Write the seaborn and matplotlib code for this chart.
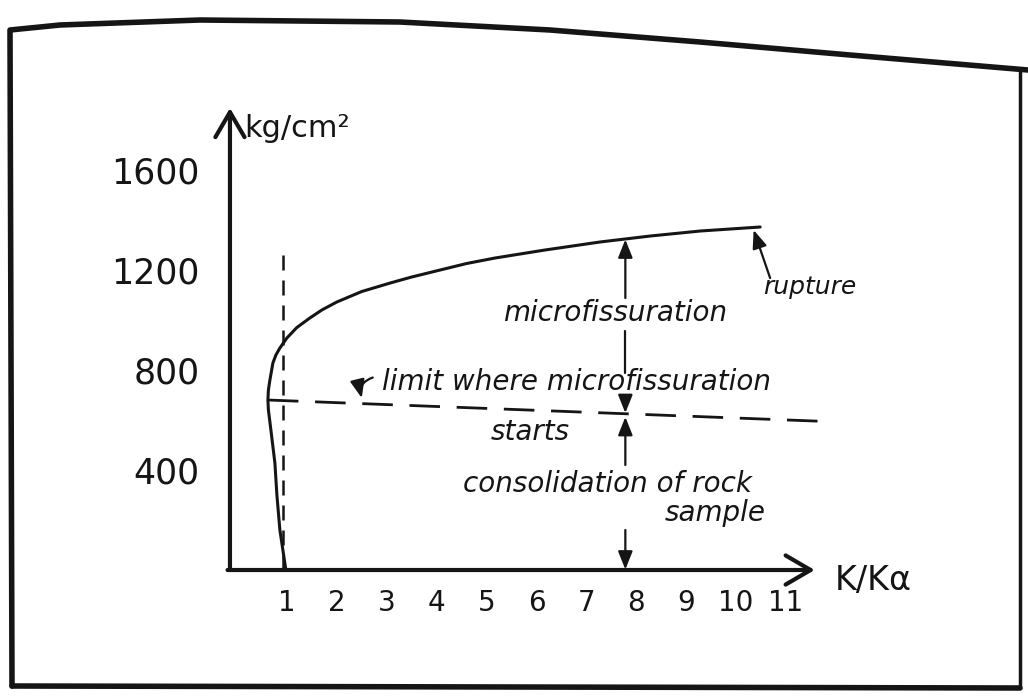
import numpy as np
import pandas as pd
import matplotlib
matplotlib.use("Agg")
import matplotlib.pyplot as plt
from matplotlib.lines import Line2D
import seaborn as sns

# stress / (K/Ka) curve
curve_k = [0.98, 0.92, 0.86, 0.80, 0.76, 0.68, 0.63, 0.62, 0.63, 0.66, 0.72, 0.78,
           0.86, 1.0, 1.2, 1.46, 1.7, 2.0, 2.5, 3.07, 3.5, 4.07, 4.6, 5.17,
           6.17, 7.27, 8.28, 9.28, 10.48]
curve_v = [0, 80, 160, 300, 428, 560, 640, 680, 720, 760, 828, 860,
           888, 928, 970, 1008, 1040, 1072, 1114, 1148, 1172, 1200, 1226, 1248,
           1280, 1312, 1336, 1356, 1372]

# limit where microfissuration starts (hand drawn, slightly sloping)
limit_k = [0.62, 11.95]
limit_v = [680, 593]

# vertical dashed reference at K/Ka ~ 1
ref_k = [0.92, 0.92]
ref_v = [0, 1270]

x_ticks = [1, 2, 3, 4, 5, 6, 7, 8, 9, 10, 11]
y_ticks = [400, 800, 1200, 1600]
y_labels = ["400", "800", "1200", "1600"]

df = pd.DataFrame({"k": curve_k, "v": curve_v})

sns.set_style("white")
plt.rcParams["font.family"] = ["DejaVu Sans"]

ink = "#151515"
fig = plt.figure(figsize=(10.28, 7.0), dpi=100)
ax = fig.add_axes([0.2237, 0.1857, 0.5944, 0.66])

sns.lineplot(data=df, x="k", y="v", sort=False, estimator=None, color=ink, lw=2.2, ax=ax)
ax.plot(limit_k, limit_v, color=ink, lw=2.0, dashes=(11, 6))
ax.plot(ref_k, ref_v, color=ink, lw=1.8, dashes=(6, 4), clip_on=False)

ax.set_xlim(-0.14, 12.1)
ax.set_ylim(0, 1848)
for s in ax.spines.values():
    s.set_visible(False)

# axes drawn as arrows
ax_arrow = dict(arrowstyle="->,head_length=0.6,head_width=0.35", lw=3, color=ink,
                mutation_scale=30, shrinkA=0, shrinkB=0)
ax.annotate("", xy=(0, 1.0), xytext=(0, 0), xycoords="axes fraction", arrowprops=ax_arrow)
ax.annotate("", xy=(0.957, 0), xytext=(-0.004, 0), xycoords="axes fraction", arrowprops=ax_arrow)

ax.set_xticks(x_ticks)
ax.set_xticklabels([str(t) for t in x_ticks], fontsize=20)
ax.set_yticks(y_ticks)
ax.set_yticklabels(y_labels, fontsize=25)
ax.tick_params(axis="both", direction="out", length=11, width=2, color=ink, labelcolor=ink)
ax.tick_params(axis="y", pad=11)
ax.tick_params(axis="x", length=9, pad=5)
ax.set_xlabel("")
ax.set_ylabel("")

ax.text(0.14, 1768, "kg/cm²", fontsize=22, color=ink, va="center", ha="left", clip_on=False)
ax.text(11.98, -40, "K/Kα", fontsize=24, color=ink, va="center", ha="left", clip_on=False)

note = dict(fontsize=20, style="italic", color=ink, va="center", ha="center")
ax.text(7.57, 1028, "microfissuration", **note)
ax.text(6.8, 752, "limit where microfissuration", **note)
ax.text(5.87, 552, "starts", **note)
ax.text(7.43, 344, "consolidation of rock", **note)
ax.text(9.58, 228, "sample", **note)
ax.text(10.54, 1132, "rupture", fontsize=18, style="italic", color=ink, va="center", ha="left")

arr = dict(arrowstyle="-|>,head_length=0.5,head_width=0.2", lw=1.6, color=ink,
           mutation_scale=22, shrinkA=0, shrinkB=0)
mk = 7.78
ax.annotate("", xy=(mk, 1322), xytext=(mk, 1088), arrowprops=arr)
ax.plot([mk, mk], [958, 790], color=ink, lw=1.6)
ax.annotate("", xy=(mk, 628), xytext=(mk, 700), arrowprops=arr)
ax.annotate("", xy=(mk, 612), xytext=(mk, 420), arrowprops=arr)
ax.annotate("", xy=(mk, 2), xytext=(mk, 160), arrowprops=arr)
ax.annotate("", xy=(10.35, 1360), xytext=(10.68, 1168), arrowprops=arr)
ax.annotate("", xy=(2.5, 688), xytext=(2.72, 770),
            arrowprops=dict(arr, connectionstyle="arc3,rad=0.45"))

# hand drawn frame around the scanned figure
fx = np.array([12, 10, 60, 200, 400, 550, 700, 850, 1028])
fy = np.array([686, 30, 25, 20, 22, 30, 42, 55, 70])
fig.add_artist(Line2D(fx / 1028, 1 - fy / 700, transform=fig.transFigure, color=ink, lw=4))
fig.add_artist(Line2D(np.array([12, 1020]) / 1028, 1 - np.array([686, 688]) / 700,
                      transform=fig.transFigure, color=ink, lw=4))
fig.add_artist(Line2D(np.array([1020, 1020]) / 1028, 1 - np.array([70, 688]) / 700,
                      transform=fig.transFigure, color=ink, lw=2.5))

fig.savefig("out.png", dpi=100)
